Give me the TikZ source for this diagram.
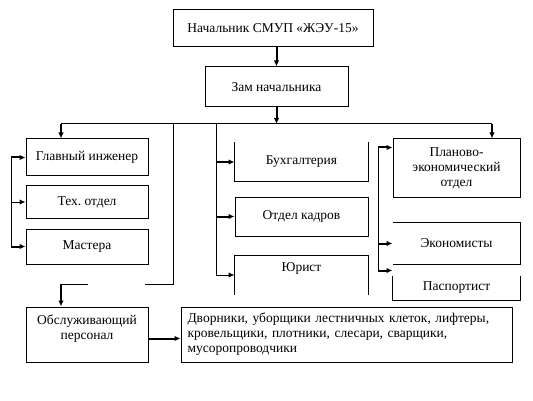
\documentclass[tikz,border=0pt]{standalone}
\usepackage{fontspec}
\setmainfont{Liberation Serif}
\usetikzlibrary{arrows.meta, positioning, calc}
\frenchspacing

\begin{document}
\begin{tikzpicture}[x=1pt, y=-1pt, >={Latex[length=6pt,width=5.5pt]},
    box/.style={draw, line width=1pt, inner sep=2pt, align=center, font=\fontsize{13.5}{15}\selectfont},
    openbox/.style={box, draw=none},
    link/.style={line width=1pt},
    bold/.style={line width=2pt}]

    \useasboundingbox (0,0) rectangle (533,401);

    % Head of the chart
    \node[box, minimum width=200pt, minimum height=37pt] (chief) at (273,28) {Начальник СМУП «ЖЭУ-15»};
    \node[box, minimum width=143pt, minimum height=40pt] (deputy) at (276.5,87) {Зам начальника};

    % Engineering group
    \node[box, minimum width=122pt, minimum height=37pt] (glav) at (87,157.5) {Главный инженер};
    \node[box, minimum width=122pt, minimum height=32pt] (tex) at (87,202) {Тех. отдел};
    \node[box, minimum width=122pt, minimum height=35pt] (mast) at (87,246.5) {Мастера};

    % Office group
    \node[openbox, minimum width=133pt, minimum height=38pt] (buh) at (301.5,162) {Бухгалтерия};
    \node[box, minimum width=133pt, minimum height=39pt] (kadr) at (301.5,216.5) {Отдел кадров};
    \node[openbox, minimum width=133pt, minimum height=38pt] (jur) at (301.5,275) {Юрист\\\mbox{}};

    % Planning group
    \node[box, minimum width=127pt, minimum height=58pt] (plan) at (456.5,168) {Планово-\\экономический\\отдел};
    \node[openbox, minimum width=127pt, minimum height=41pt] (econ) at (456.5,243.5) {Экономисты};
    \node[openbox, minimum width=127pt, minimum height=24pt] (pasp) at (456.5,288) {Паспортист};

    % Service staff
    \node[box, minimum width=122pt, minimum height=55pt] (obs) at (87,334.5) {Обслуживающий\\персонал\\\mbox{}};
    \node[box, minimum width=331pt, minimum height=55pt, text width=318pt, align=left] (dvor) at (346.5,334.5)
        {Дворники, уборщики лестничных клеток, лифтеры,\\кровельщики, плотники, слесари, сварщики,\\мусоропроводчики};

    % Open box frames
    \draw[link] (buh.north west) -- (buh.south west) -- (buh.south east) -- (buh.north east);
    \draw[link] (jur.south west) -- (jur.north west) -- (jur.north east) -- (jur.south east);
    \draw[link] (econ.north west) -- (econ.north east) -- (econ.south east) -- (econ.south west);
    \draw[link] (pasp.north west) -- (pasp.south west) -- (pasp.south east) -- (pasp.north east);

    % Bus points
    \coordinate (bus) at (276.5,124);
    \coordinate (busL) at (61,124);
    \coordinate (busR) at (492,124);
    \coordinate (dropA) at (173,124);
    \coordinate (midTop) at (216,124);
    \coordinate (gapR) at (145,284);
    \coordinate (gapL) at (88,284);
    \coordinate (turn) at (61,284);
    \coordinate (lbus) at (11,0);
    \coordinate (rbus) at (378,0);
    \coordinate (planIn) at ($(plan.north west)+(0,9)$);
    \coordinate (paspIn) at ($(pasp.north west)+(0,-5)$);

    % Top arrows
    \draw[bold, ->] (chief.south -| deputy) -- (deputy);
    \draw[bold, ->] (deputy) -- (bus);
    \draw[link] (busL) -- (busR);
    \draw[bold, ->] (busL) -- (busL |- glav.north);
    \draw[bold, ->] (busR) -- (busR |- plan.north);

    % Left bus
    \draw[link] (lbus |- glav.west) -- (lbus |- mast.west);
    \draw[bold, ->] (lbus |- glav.west) -- (glav.west);
    \draw[link, ->] (lbus |- tex.west) -- (tex.west);
    \draw[bold, ->] (lbus |- mast.west) -- (mast.west);

    % Middle bus
    \draw[link] (midTop) -- (midTop |- jur.west);
    \draw[bold, ->] (midTop |- buh.west) -- (buh.west);
    \draw[bold, ->] (midTop |- kadr.west) -- (kadr.west);
    \draw[link, ->] (midTop |- jur.west) -- (jur.west);

    % Right bus
    \draw[link] (rbus |- planIn) -- (rbus |- paspIn);
    \draw[bold, ->] (rbus |- planIn) -- (planIn);
    \draw[bold, ->] (rbus |- econ.west) -- (econ.west);
    \draw[bold, ->] (rbus |- paspIn) -- (paspIn);

    % Drop to service staff
    \draw[link] (dropA) |- (gapR);
    \draw[link] (gapL) -- (turn);
    \draw[bold, ->] (turn) -- (turn |- obs.north);
    \draw[bold, ->] ($(obs.east)+(0,4)$) -- ($(dvor.west)+(0,4)$);

\end{tikzpicture}
\end{document}
